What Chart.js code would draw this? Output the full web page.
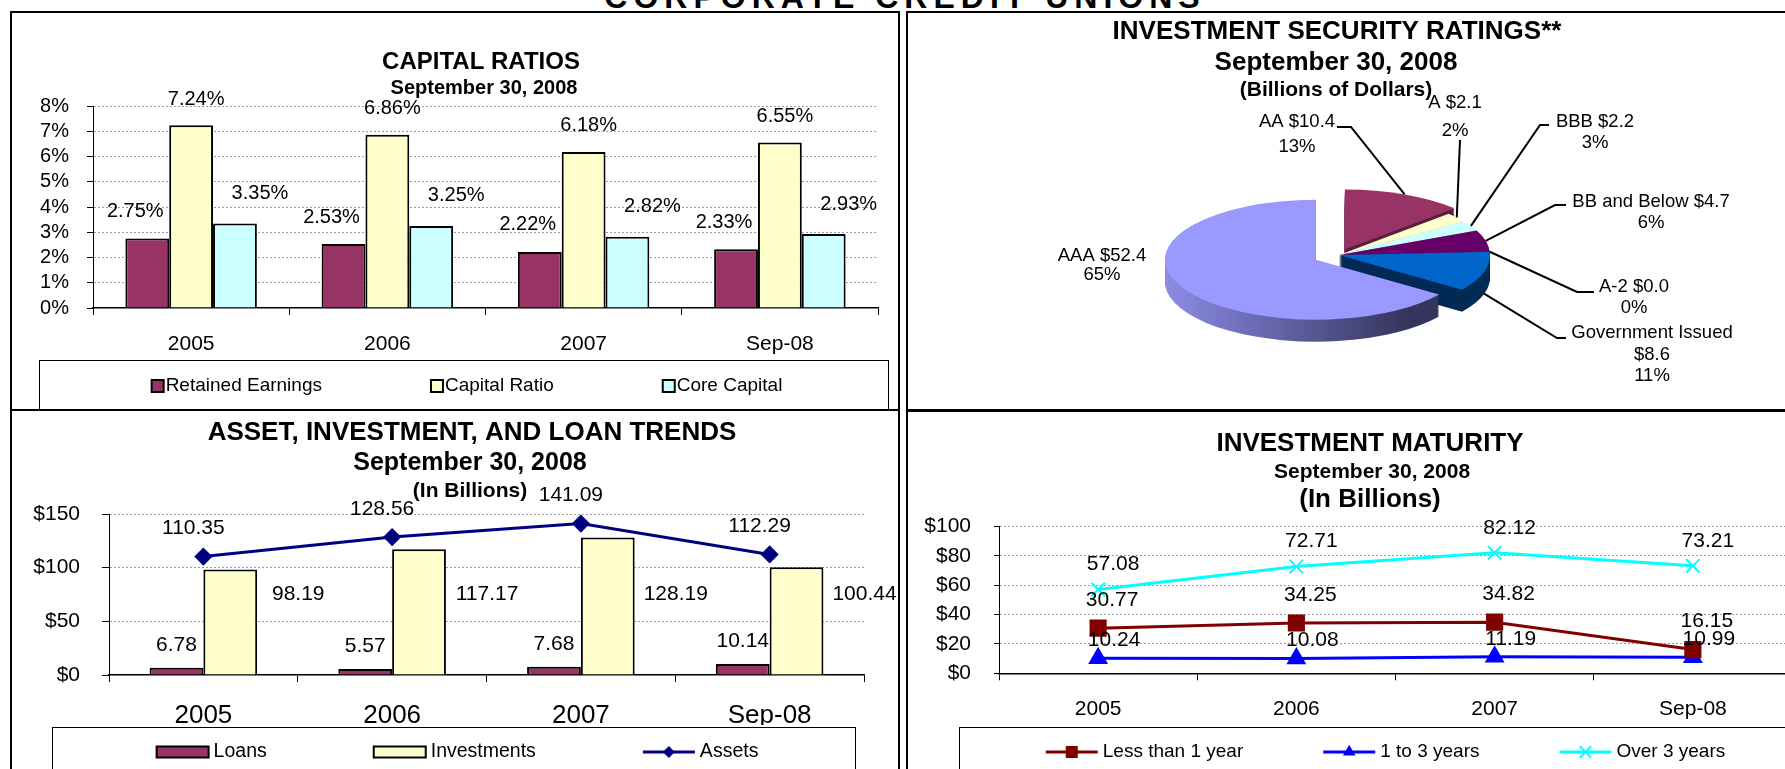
<!DOCTYPE html>
<html>
<head>
<meta charset="utf-8">
<script src="https://cdn.jsdelivr.net/npm/chart.js@4.4.1/dist/chart.umd.min.js"></script>
<style>
  body { margin: 0; width: 1785px; height: 769px; overflow: hidden; background: #fff; position: relative; }
  .box { position: absolute; border: 2px solid #000; box-sizing: border-box; }
  canvas { position: absolute; }
  #banner { position: absolute; left: 0; width: 1810px; top: -19px; text-align: center;
            font: bold 32px/32px "Liberation Sans", Arial, sans-serif; letter-spacing: 6px; }
</style>
</head>
<body>
<div id="banner">CORPORATE CREDIT UNIONS</div>
<div class="box" style="left:10px;top:11px;width:890px;height:400px"></div>
<div class="box" style="left:906px;top:11px;width:900px;height:401px;border-bottom-width:3px"></div>
<div class="box" style="left:10px;top:409px;width:890px;height:400px"></div>
<div class="box" style="left:906px;top:409px;width:900px;height:400px;border-top-width:3px"></div>

<canvas id="capital" width="886" height="396" style="left:12px;top:13px"></canvas>
<canvas id="ratings" width="877" height="395" style="left:908px;top:13px"></canvas>
<canvas id="trends" width="886" height="357" style="left:12px;top:412px"></canvas>
<canvas id="maturity" width="960" height="357" style="left:908px;top:412px"></canvas>

<script>
const FONT = '"Liberation Sans", Arial, sans-serif';

// ---- data ----
const years = ['2005', '2006', '2007', 'Sep-08'];

const retainedEarnings = [2.75, 2.53, 2.22, 2.33];
const capitalRatio = [7.24, 6.86, 6.18, 6.55];
const coreCapital = [3.35, 3.25, 2.82, 2.93];

const ratingNames = ['AA', 'A', 'BBB', 'BB and Below', 'A-2', 'Government Issued', 'AAA'];
const ratingValues = [10.4, 2.1, 2.2, 4.7, 0.0, 8.6, 52.4];
const ratingShares = ['13%', '2%', '3%', '6%', '0%', '11%', '65%'];

const loans = [6.78, 5.57, 7.68, 10.14];
const investments = [98.19, 117.17, 128.19, 100.44];
const assets = [110.35, 128.56, 141.09, 112.29];

const lessThan1 = [30.77, 34.25, 34.82, 16.15];
const oneTo3 = [10.24, 10.08, 11.19, 10.99];
const over3 = [57.08, 72.71, 82.12, 73.21];

Chart.defaults.font.family = FONT;
Chart.defaults.color = '#000';
Chart.defaults.animation = false;
Chart.defaults.responsive = false;
Chart.defaults.plugins.legend.display = false;
Chart.defaults.plugins.tooltip.enabled = false;

// ---- plugins ----
const headings = {
  id: 'headings',
  afterDraw(chart, args, o) {
    const ctx = chart.ctx;
    ctx.save();
    ctx.fillStyle = '#000';
    ctx.textAlign = 'center';
    ctx.textBaseline = 'middle';
    o.lines.forEach(l => {
      ctx.font = 'bold ' + l.size + 'px ' + FONT;
      ctx.fillText(l.text, l.x, l.y);
    });
    ctx.restore();
  }
};

// value labels; each dataset carries its own tag offset (tagDx / tagDy, or tagAt = fixed axis value)
const valueTags = {
  id: 'valueTags',
  afterDraw(chart, args, o) {
    const ctx = chart.ctx;
    const yScale = chart.scales.y;
    ctx.save();
    ctx.font = o.size + 'px ' + FONT;
    ctx.fillStyle = '#000';
    ctx.textAlign = 'center';
    ctx.textBaseline = 'middle';
    chart.data.datasets.forEach((ds, i) => {
      const dx = ds.tagDx || 0, dy = ds.tagDy || 0;
      chart.getDatasetMeta(i).data.forEach((el, j) => {
        const pos = el.getProps(['x', 'y'], true);
        const y = typeof ds.tagAt === 'number' ? yScale.getPixelForValue(ds.tagAt) : pos.y + dy;
        ctx.fillText(ds.data[j].toFixed(2) + o.suffix, pos.x + dx, y);
      });
    });
    ctx.restore();
  }
};

function marker(ctx, style, x, y, r, color) {
  ctx.fillStyle = color;
  ctx.strokeStyle = color;
  ctx.beginPath();
  if (style === 'rect') {
    const s = r * Math.SQRT1_2;
    ctx.rect(x - s, y - s, 2 * s, 2 * s);
    ctx.fill();
  } else if (style === 'rectRot') {
    ctx.moveTo(x - r, y); ctx.lineTo(x, y - r); ctx.lineTo(x + r, y); ctx.lineTo(x, y + r);
    ctx.closePath(); ctx.fill();
  } else if (style === 'triangle') {
    const c = Math.cos(Math.PI / 6) * r;
    ctx.moveTo(x, y - r); ctx.lineTo(x + c, y + r / 2); ctx.lineTo(x - c, y + r / 2);
    ctx.closePath(); ctx.fill();
  } else {
    const s = r * Math.SQRT1_2;
    ctx.lineWidth = 2;
    ctx.moveTo(x - s, y - s); ctx.lineTo(x + s, y + s);
    ctx.moveTo(x + s, y - s); ctx.lineTo(x - s, y + s);
    ctx.stroke();
  }
}

function drawIcon(ctx, ds, x, y, w, h) {
  if (ds.pointStyle) {
    ctx.strokeStyle = ds.borderColor;
    ctx.lineWidth = ds.borderWidth;
    ctx.beginPath(); ctx.moveTo(x, y); ctx.lineTo(x + w, y); ctx.stroke();
    marker(ctx, ds.pointStyle, x + w / 2, y, ds.pointRadius * 0.85, ds.borderColor);
  } else {
    ctx.fillStyle = ds.backgroundColor;
    ctx.fillRect(x, y - h / 2, w, h);
    ctx.strokeStyle = ds.borderColor;
    ctx.lineWidth = 2;
    ctx.strokeRect(x, y - h / 2, w, h);
  }
}

const boxLegend = {
  id: 'boxLegend',
  afterDraw(chart, args, o) {
    const ctx = chart.ctx;
    ctx.save();
    ctx.strokeStyle = '#000';
    ctx.lineWidth = 1;
    ctx.strokeRect(o.frame[0] + 0.5, o.frame[1] + 0.5, o.frame[2] - o.frame[0], o.frame[3] - o.frame[1]);
    ctx.font = o.size + 'px ' + FONT;
    ctx.textBaseline = 'middle';
    ctx.textAlign = 'left';
    const items = chart.data.datasets.map(ds => ({ds, w: o.iconW + o.iconGap + ctx.measureText(ds.label).width}));
    const total = items.reduce((s, it) => s + it.w, 0) + o.gap * (items.length - 1);
    let x = o.cx - total / 2;
    items.forEach(({ds, w}) => {
      drawIcon(ctx, ds, x, o.y, o.iconW, o.iconH);
      ctx.fillStyle = '#000';
      ctx.fillText(ds.label, x + o.iconW + o.iconGap, o.y);
      x += w + o.gap;
    });
    ctx.restore();
  }
};

function sideFill(ctx, spec, r) {
  if (!Array.isArray(spec)) return spec;
  const g = ctx.createLinearGradient(-r, 0, r * 0.6, 0);
  g.addColorStop(0, spec[0]);
  g.addColorStop(1, spec[1]);
  return g;
}

const pie3d = {
  id: 'pie3d',
  beforeDatasetsDraw(chart, args, o) {
    const ctx = chart.ctx;
    const arcs = chart.getDatasetMeta(0).data;
    for (let d = o.depth; d >= 0; d--) {
      arcs.forEach((arc, i) => {
        const a = arc.getProps(['x', 'y', 'startAngle', 'endAngle', 'outerRadius']);
        if (a.endAngle - a.startAngle < 1e-4) return;
        const mid = (a.startAngle + a.endAngle) / 2;
        const off = o.explode[i] || 0;
        ctx.save();
        ctx.translate(a.x + Math.cos(mid) * off, a.y + Math.sin(mid) * off * o.squash + d);
        ctx.scale(1, o.squash);
        ctx.beginPath();
        ctx.moveTo(0, 0);
        ctx.arc(0, 0, a.outerRadius, a.startAngle, a.endAngle);
        ctx.closePath();
        ctx.fillStyle = d ? sideFill(ctx, o.side[i], a.outerRadius) : arc.options.backgroundColor;
        ctx.fill();
        ctx.restore();
      });
    }
    return false;
  }
};

const pieTags = {
  id: 'pieTags',
  afterDraw(chart, args, o) {
    const ctx = chart.ctx;
    const p3 = chart.options.plugins.pie3d;
    const ds = chart.data.datasets[0];
    const arcs = chart.getDatasetMeta(0).data;
    ctx.save();
    ctx.font = o.size + 'px ' + FONT;
    ctx.fillStyle = '#000';
    ctx.strokeStyle = '#000';
    ctx.lineWidth = 2;
    ctx.textAlign = 'center';
    ctx.textBaseline = 'middle';
    chart.data.labels.forEach((name, i) => {
      const t = o.tags[i];
      const money = '$' + ds.data[i].toFixed(1);
      const lines = t.wrap ? [name, money, ds.shares[i]] : [name + ' ' + money, ds.shares[i]];
      lines.forEach((s, k) => ctx.fillText(s, t.x, t.y + k * t.gap));
      if (!t.from) return;
      const a = arcs[i].getProps(['x', 'y', 'startAngle', 'endAngle', 'outerRadius']);
      const mid = (a.startAngle + a.endAngle) / 2;
      const rr = a.outerRadius + (p3.explode[i] || 0);
      const ex = a.x + Math.cos(mid) * rr;
      const ey = a.y + Math.sin(mid) * rr * p3.squash + (Math.sin(mid) > 0.2 ? p3.depth : 0);
      ctx.beginPath();
      ctx.moveTo(t.from[0], t.from[1]);
      if (t.elbow) ctx.lineTo(t.elbow[0], t.elbow[1]);
      ctx.lineTo(ex, ey);
      ctx.stroke();
    });
    ctx.restore();
  }
};

const hideZero = c => (c.tick.value === 0 ? 'rgba(0,0,0,0)' : '#9a9a9a');

function yAxis(max, step, fmt, size, pad, tick) {
  return {
    min: 0, max: max,
    afterFit: s => { s.width = 80; },
    ticks: {stepSize: step, autoSkip: false, padding: pad, font: {size: size}, callback: fmt},
    grid: {color: hideZero, tickColor: '#000', tickLength: tick},
    border: {color: '#000', width: 1, dash: [2, 2]}
  };
}

function xAxis(size, pad) {
  return {
    offset: true,
    afterFit: s => { s.height = 50; },
    ticks: {padding: pad, font: {size: size}},
    grid: {offset: true, drawOnChartArea: false, tickColor: '#000', tickLength: 7},
    border: {color: '#000', width: 1.5}
  };
}

// ---- capital ratios ----
new Chart(document.getElementById('capital'), {
  type: 'bar',
  data: {
    labels: years,
    datasets: [
      {label: 'Retained Earnings', data: retainedEarnings, backgroundColor: '#993366', borderColor: '#000', borderWidth: 2, tagDx: -12, tagDy: -27},
      {label: 'Capital Ratio', data: capitalRatio, backgroundColor: '#FFFFCC', borderColor: '#000', borderWidth: 2, tagDx: 5, tagDy: -26},
      {label: 'Core Capital', data: coreCapital, backgroundColor: '#CCFFFF', borderColor: '#000', borderWidth: 2, tagDx: 25, tagDy: -30}
    ]
  },
  options: {
    layout: {padding: {left: 1, right: 20, top: 93, bottom: 51}},
    datasets: {bar: {categoryPercentage: 0.67, barPercentage: 1.0}},
    scales: {
      x: xAxis(21, 17),
      y: yAxis(8, 1, v => v + '%', 20, 18, 6)
    },
    plugins: {
      headings: {lines: [
        {text: 'CAPITAL RATIOS', size: 24, x: 469, y: 49},
        {text: 'September 30, 2008', size: 20, x: 472, y: 75}
      ]},
      valueTags: {size: 20, suffix: '%'},
      boxLegend: {frame: [27, 347, 876, 430], cx: 455, y: 373, gap: 109, iconW: 12, iconH: 12, iconGap: 2, size: 19}
    }
  },
  plugins: [headings, valueTags, boxLegend]
});

// ---- investment security ratings ----
new Chart(document.getElementById('ratings'), {
  type: 'pie',
  data: {
    labels: ratingNames,
    datasets: [{
      data: ratingValues,
      shares: ratingShares,
      backgroundColor: ['#993366', '#FFFFCC', '#CCFFFF', '#660066', '#FF8080', '#0066CC', '#9999FF'],
      borderWidth: 0,
      radius: 151,
      clip: false
    }]
  },
  options: {
    rotation: 0,
    layout: {padding: {left: 0, right: 15, top: 89, bottom: 0}},
    plugins: {
      headings: {lines: [
        {text: 'INVESTMENT SECURITY RATINGS**', size: 26, x: 429, y: 19},
        {text: 'September 30, 2008', size: 26, x: 428, y: 50},
        {text: '(Billions of Dollars)', size: 21, x: 428, y: 77}
      ]},
      pie3d: {
        squash: 0.397, depth: 22,
        explode: [15, 0, 0, 0, 0, 0, 26],
        side: ['#5C1E3D', '#B5B58F', '#8CB5B5', '#3A003A', '#803030', '#002B55', ['#8C8CE6', '#35355E']]
      },
      pieTags: {size: 18.5, tags: [
        {x: 389, y: 109, gap: 25, from: [429, 114], elbow: [443, 114]},
        {x: 547, y: 90, gap: 28, from: [552, 127]},
        {x: 687, y: 109, gap: 21, from: [641, 112], elbow: [632, 112]},
        {x: 743, y: 189, gap: 21, from: [658, 192], elbow: [647, 192]},
        {x: 726, y: 274, gap: 21, from: [686, 279], elbow: [669, 279]},
        {x: 744, y: 320, gap: 21.5, from: [658, 325], elbow: [649, 325], wrap: true},
        {x: 194, y: 243, gap: 19}
      ]}
    }
  },
  plugins: [headings, pie3d, pieTags]
});

// ---- asset, investment and loan trends ----
new Chart(document.getElementById('trends'), {
  type: 'bar',
  data: {
    labels: years,
    datasets: [
      {label: 'Loans', data: loans, backgroundColor: '#993366', borderColor: '#000', borderWidth: 2, order: 1, tagDx: 0, tagDy: -23},
      {label: 'Investments', data: investments, backgroundColor: '#FFFFCC', borderColor: '#000', borderWidth: 2, order: 1, tagDx: 68, tagAt: 75},
      {label: 'Assets', type: 'line', data: assets, borderColor: '#000080', backgroundColor: '#000080', borderWidth: 3,
       pointStyle: 'rectRot', pointRadius: 7, pointBackgroundColor: '#000080', pointBorderColor: '#000080', order: 0,
       tagDx: -10, tagDy: -28}
    ]
  },
  options: {
    layout: {padding: {left: 17, right: 34, top: 102, bottom: 44}},
    datasets: {bar: {categoryPercentage: 0.57, barPercentage: 1.0}},
    scales: {
      x: xAxis(26, 18),
      y: yAxis(150, 50, v => '$' + v, 21, 22, 7)
    },
    plugins: {
      headings: {lines: [
        {text: 'ASSET, INVESTMENT, AND LOAN TRENDS', size: 26, x: 460, y: 21},
        {text: 'September 30, 2008', size: 25, x: 458, y: 51},
        {text: '(In Billions)', size: 21, x: 458, y: 79}
      ]},
      valueTags: {size: 21, suffix: ''},
      boxLegend: {frame: [40, 315, 843, 420], cx: 445.5, y: 340, gap: 107, iconW: 52, iconH: 11, iconGap: 5, size: 19.5}
    }
  },
  plugins: [headings, valueTags, boxLegend]
});

// ---- investment maturity ----
new Chart(document.getElementById('maturity'), {
  type: 'line',
  data: {
    labels: years,
    datasets: [
      {label: 'Less than 1 year', data: lessThan1, borderColor: '#800000', backgroundColor: '#800000', borderWidth: 3,
       pointStyle: 'rect', pointRadius: 10, pointBackgroundColor: '#800000', pointBorderColor: '#800000', tagDx: 14, tagDy: -28},
      {label: '1 to 3 years', data: oneTo3, borderColor: '#0000FF', backgroundColor: '#0000FF', borderWidth: 3,
       pointStyle: 'triangle', pointRadius: 8.5, pointBackgroundColor: '#0000FF', pointBorderColor: '#0000FF', tagDx: 16, tagDy: -18},
      {label: 'Over 3 years', data: over3, borderColor: '#00FFFF', backgroundColor: '#00FFFF', borderWidth: 3,
       pointStyle: 'crossRot', pointRadius: 9.5, pointBorderWidth: 2, pointBorderColor: '#00FFFF', tagDx: 15, tagDy: -25}
    ]
  },
  options: {
    layout: {padding: {left: 11, right: 76, top: 114.5, bottom: 45.7}},
    scales: {
      x: xAxis(21, 16),
      y: yAxis(100, 20, v => '$' + v, 21, 23, 5)
    },
    plugins: {
      headings: {lines: [
        {text: 'INVESTMENT MATURITY', size: 26, x: 462, y: 32},
        {text: 'September 30, 2008', size: 21, x: 464, y: 60},
        {text: '(In Billions)', size: 26, x: 462, y: 88}
      ]},
      valueTags: {size: 21, suffix: ''},
      boxLegend: {frame: [51, 315, 1100, 420], cx: 477.5, y: 340, gap: 80, iconW: 52, iconH: 11, iconGap: 5, size: 19}
    }
  },
  plugins: [headings, valueTags, boxLegend]
});
</script>
</body>
</html>
